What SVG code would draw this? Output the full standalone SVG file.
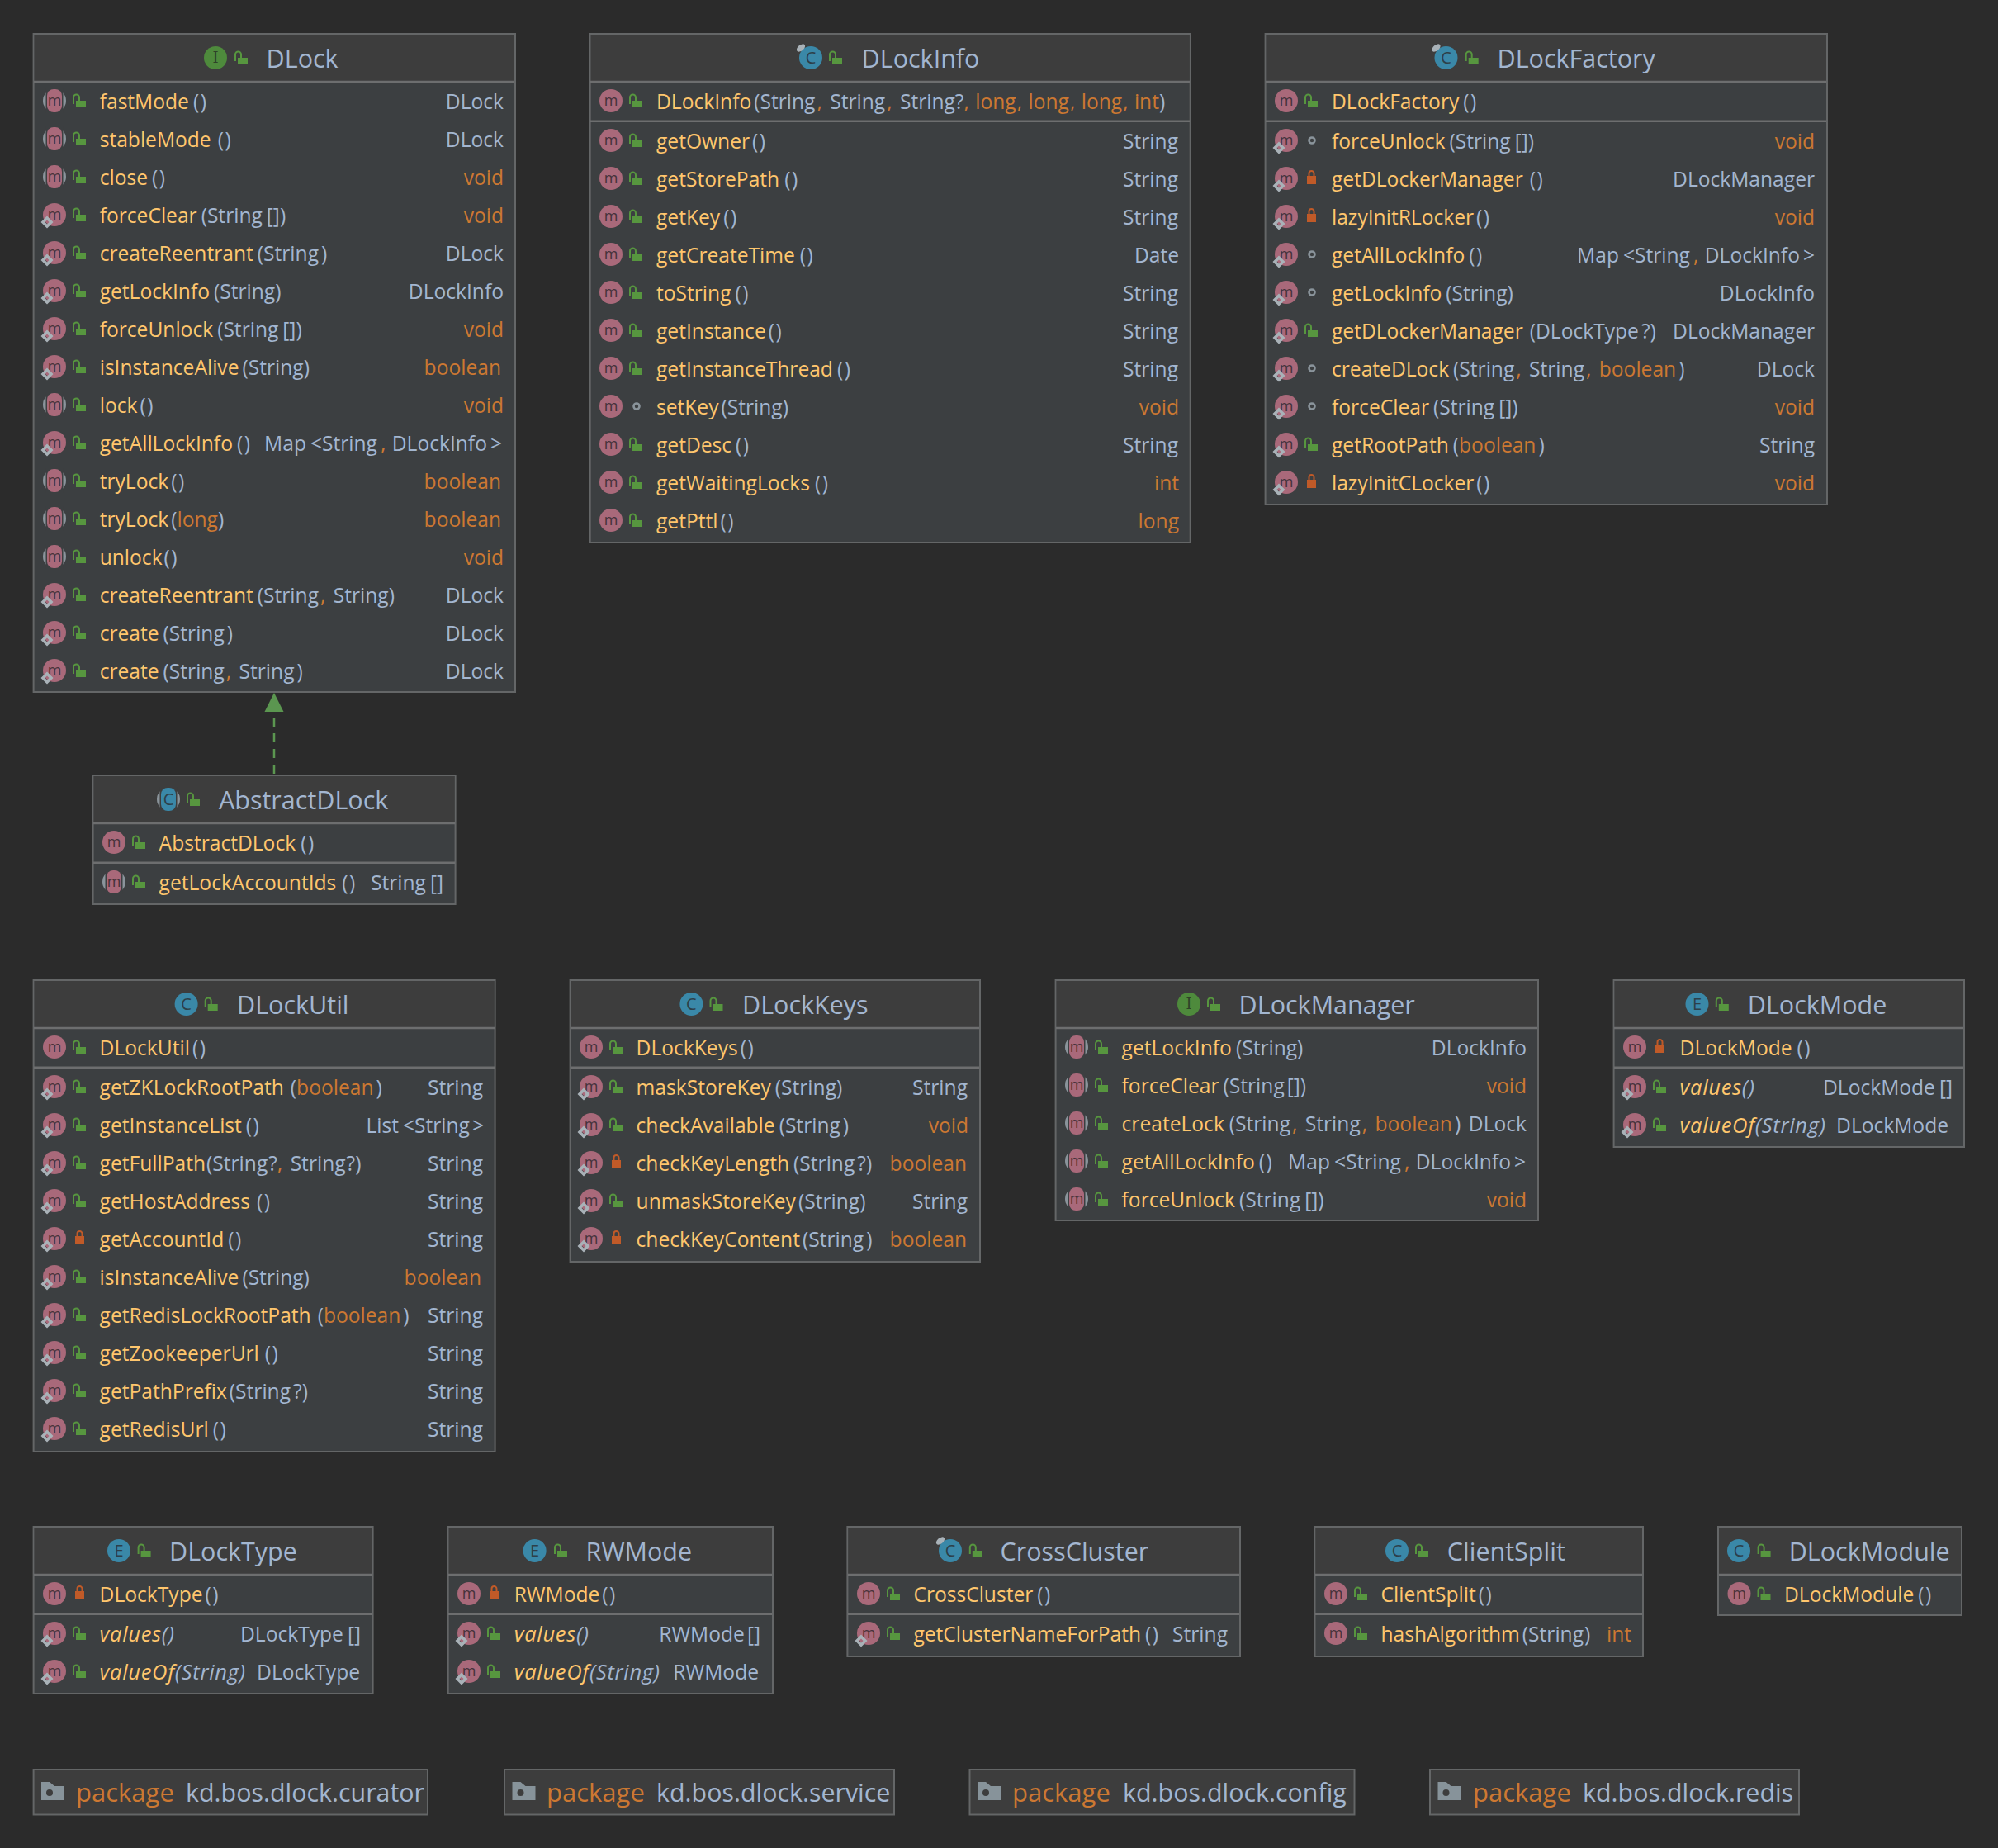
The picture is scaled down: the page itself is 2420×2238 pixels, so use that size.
<svg xmlns="http://www.w3.org/2000/svg" width="2420" height="2238" viewBox="0 0 2420 2238">
<style>
text{font-family:"Open Sans","Noto Sans","Liberation Sans",sans-serif;font-size:24.6px;white-space:pre;fill:#a3b6d0}
.b{fill:#3c3f41;stroke:#646667;stroke-width:2}
.h{fill:#3d3d3d}
.s{stroke:#6d6e6f;stroke-width:2.4;fill:none}
.ti{font-size:30.5px}
.n{fill:#ffc66d}
.t{fill:#a3b6d0}
.u{fill:#a3b6d0;letter-spacing:1.5px}
.k,text.k{fill:#cc7832}
.i{font-style:italic;font-size:25.5px;letter-spacing:.7px}
.r{text-anchor:end}
.pk{font-size:30.4px}
.pk .k{font-size:31px}
.gl{font-size:18px;text-anchor:middle;fill:#45323a}
.gc{font-size:20px;text-anchor:middle;fill:#2d3f49}
.gg{font-size:18px;text-anchor:middle;fill:#2f4228;font-family:"DejaVu Serif",serif}
</style>
<defs>
<g id="m"><circle r="14" fill="#a9697a"/><text class="gl" y="6">m</text></g>
<g id="ma"><circle r="14" fill="#8a949b"/><rect x="-10.500" y="-15" width="21" height="30" fill="#3c3f41"/><rect x="-9" y="-14" width="18" height="28" rx="8" fill="#a9697a"/><text class="gl" y="6">m</text></g>
<g id="ms"><use href="#m"/><path d="M-9 1.500L-1.500 9-9 16.500-16.500 9ZM-9 6.500L-11.500 9-9 11.500-6.500 9Z" fill="#a9b2b8" fill-rule="evenodd"/></g>
<g id="lo" fill="#57963f"><rect x="-4" y="0" width="12" height="8"/><path d="M-7 4V-4A3.500 3.500 0 0 1 0-4V0" fill="none" stroke="#57963f" stroke-width="2"/></g>
<g id="lp"><rect x="-5" y="-3" width="11" height="10" fill="#c05a28"/><path d="M-2.500-3V-6A3 3 0 0 1 3.500-6V-3" fill="none" stroke="#c05a28" stroke-width="2"/></g>
<circle id="lk" cx="1" cy="0" r="3.500" fill="none" stroke="#8a949b" stroke-width="2.600"/>
<g id="cc"><circle r="14" fill="#3a88a8"/><text class="gc" y="7">C</text></g>
<g id="cf"><use href="#cc"/><ellipse cx="-12" cy="-12" rx="6" ry="3.500" fill="#a9b2b8" transform="rotate(-40 -12 -12)"/></g>
<g id="ca"><circle r="14" fill="#8a949b"/><rect x="-10.500" y="-15" width="21" height="30" fill="#3d3d3d"/><rect x="-9" y="-14" width="18" height="28" rx="8" fill="#3a88a8"/><text class="gc" y="7">C</text></g>
<g id="ce"><circle r="14" fill="#3a88a8"/><text class="gc" y="7">E</text></g>
<g id="ci"><circle r="14" fill="#4e8a3c"/><text class="gg" y="6">I</text></g>
<g id="fd"><path d="M50 2158H60L66 2163H78V2180H50Z" fill="#87939a"/><circle cx="60" cy="2171" r="4" fill="#3d3d3d"/></g>
</defs>
<rect width="2420" height="2238" fill="#2b2b2b"/>

<g id="connectors">
<path d="M332 937V862" fill="none" stroke="#5b9650" stroke-width="2.500" stroke-dasharray="11 8"/>
<path d="M332 839L343.500 862H320.500Z" fill="#5b9650"/>
</g>

<g id="DLock">
<rect class="b" x="40.600" y="41" width="583.400" height="797"/><rect class="h" x="41.600" y="42" width="581.400" height="57"/><path class="s" d="M41 99H623"/>
<use href="#ci" x="261" y="70"/><use href="#lo" x="292" y="70"/><text class="ti" x="322.600" y="82">DLock</text>
<use href="#ma" x="66" y="122"/><use href="#lo" x="96" y="122"/><text x="120.700" y="131.500"><tspan class="n">fastMode</tspan><tspan class="u" dx="5">()</tspan></text><text class="r" x="610" y="131.500">DLock</text>
<use href="#ma" x="66" y="168"/><use href="#lo" x="96" y="168"/><text x="120.700" y="177.500"><tspan class="n">stableMode</tspan><tspan class="u" dx="8">()</tspan></text><text class="r" x="610" y="177.500">DLock</text>
<use href="#ma" x="66" y="214"/><use href="#lo" x="96" y="214"/><text x="120.700" y="223.500"><tspan class="n">close</tspan><tspan class="u" dx="5">()</tspan></text><text class="r k" x="610" y="223.500">void</text>
<use href="#ms" x="66" y="260"/><use href="#lo" x="96" y="260"/><text x="120.700" y="269.500"><tspan class="n">forceClear</tspan><tspan class="t" dx="5">(String</tspan><tspan class="t" dx="5">[])</tspan></text><text class="r k" x="610" y="269.500">void</text>
<use href="#ms" x="66" y="306"/><use href="#lo" x="96" y="306"/><text x="120.700" y="315.500"><tspan class="n">createReentrant</tspan><tspan class="t" dx="5">(String</tspan><tspan class="t" dx="3">)</tspan></text><text class="r" x="610" y="315.500">DLock</text>
<use href="#ms" x="66" y="352"/><use href="#lo" x="96" y="352"/><text x="120.700" y="361.500"><tspan class="n">getLockInfo</tspan><tspan class="t" dx="5">(String)</tspan></text><text class="r" x="610" y="361.500">DLockInfo</text>
<use href="#ms" x="66" y="398"/><use href="#lo" x="96" y="398"/><text x="120.700" y="407.500"><tspan class="n">forceUnlock</tspan><tspan class="t" dx="5">(String</tspan><tspan class="t" dx="5">[])</tspan></text><text class="r k" x="610" y="407.500">void</text>
<use href="#ms" x="66" y="444"/><use href="#lo" x="96" y="444"/><text x="120.700" y="453.500"><tspan class="n">isInstanceAlive</tspan><tspan class="t" dx="4">(String)</tspan></text><text class="r k" x="607" y="453.500">boolean</text>
<use href="#ma" x="66" y="490"/><use href="#lo" x="96" y="490"/><text x="120.700" y="499.500"><tspan class="n">lock</tspan><tspan class="u" dx="3">()</tspan></text><text class="r k" x="610" y="499.500">void</text>
<use href="#ms" x="66" y="536"/><use href="#lo" x="96" y="536"/><text x="120.700" y="545.500"><tspan class="n">getAllLockInfo</tspan><tspan class="u" dx="5">()</tspan></text><text class="r" x="608" y="545.500">Map<tspan dx="5">&lt;String</tspan><tspan class="k" dx="4">, </tspan><tspan dx="1">DLockInfo</tspan><tspan dx="4">&gt;</tspan></text>
<use href="#ma" x="66" y="582"/><use href="#lo" x="96" y="582"/><text x="120.700" y="591.500"><tspan class="n">tryLock</tspan><tspan class="u" dx="3">()</tspan></text><text class="r k" x="607" y="591.500">boolean</text>
<use href="#ma" x="66" y="628"/><use href="#lo" x="96" y="628"/><text x="120.700" y="637.500"><tspan class="n">tryLock</tspan><tspan class="t" dx="3">(</tspan><tspan class="k">long</tspan><tspan class="t">)</tspan></text><text class="r k" x="607" y="637.500">boolean</text>
<use href="#ma" x="66" y="674"/><use href="#lo" x="96" y="674"/><text x="120.700" y="683.500"><tspan class="n">unlock</tspan><tspan class="u" dx="2">()</tspan></text><text class="r k" x="610" y="683.500">void</text>
<use href="#ms" x="66" y="720"/><use href="#lo" x="96" y="720"/><text x="120.700" y="729.500"><tspan class="n">createReentrant</tspan><tspan class="t" dx="5">(String</tspan><tspan class="k" dx="2">, </tspan><tspan class="t" dx="3">String)</tspan></text><text class="r" x="610" y="729.500">DLock</text>
<use href="#ms" x="66" y="766"/><use href="#lo" x="96" y="766"/><text x="120.700" y="775.500"><tspan class="n">create</tspan><tspan class="t" dx="5">(String</tspan><tspan class="t" dx="3">)</tspan></text><text class="r" x="610" y="775.500">DLock</text>
<use href="#ms" x="66" y="812"/><use href="#lo" x="96" y="812"/><text x="120.700" y="821.500"><tspan class="n">create</tspan><tspan class="t" dx="5">(String</tspan><tspan class="k" dx="2">, </tspan><tspan class="t" dx="3">String</tspan><tspan class="t" dx="3">)</tspan></text><text class="r" x="610" y="821.500">DLock</text>
</g>

<g id="DLockInfo">
<rect class="b" x="714.700" y="41" width="727" height="616"/><rect class="h" x="715.700" y="42" width="725" height="57"/><path class="s" d="M715 99H1441M715 146.700H1441"/>
<use href="#cf" x="982" y="70"/><use href="#lo" x="1012" y="70"/><text class="ti" x="1043.600" y="82">DLockInfo</text>
<use href="#m" x="740" y="122"/><use href="#lo" x="770" y="122"/><text x="795" y="131.500"><tspan class="n">DLockInfo</tspan><tspan class="t" dx="3">(String</tspan><tspan class="k" dx="2">, </tspan><tspan class="t" dx="3">String</tspan><tspan class="k" dx="2">, </tspan><tspan class="t" dx="3">String?</tspan><tspan class="k">, </tspan><tspan class="k" dx="1">long</tspan><tspan class="k" dx="1">, </tspan><tspan class="k" dx="1">long</tspan><tspan class="k" dx="1">, </tspan><tspan class="k" dx="1">long</tspan><tspan class="k" dx="1">, </tspan><tspan class="k" dx="1">int</tspan><tspan class="t">)</tspan></text>
<use href="#m" x="740" y="170"/><use href="#lo" x="770" y="170"/><text x="795" y="179.500"><tspan class="n">getOwner</tspan><tspan class="u" dx="3">()</tspan></text><text class="r" x="1427" y="179.500">String</text>
<use href="#m" x="740" y="216"/><use href="#lo" x="770" y="216"/><text x="795" y="225.500"><tspan class="n">getStorePath</tspan><tspan class="u" dx="6">()</tspan></text><text class="r" x="1427" y="225.500">String</text>
<use href="#m" x="740" y="262"/><use href="#lo" x="770" y="262"/><text x="795" y="271.500"><tspan class="n">getKey</tspan><tspan class="u" dx="4">()</tspan></text><text class="r" x="1427" y="271.500">String</text>
<use href="#m" x="740" y="308"/><use href="#lo" x="770" y="308"/><text x="795" y="317.500"><tspan class="n">getCreateTime</tspan><tspan class="u" dx="6">()</tspan></text><text class="r" x="1428" y="317.500">Date</text>
<use href="#m" x="740" y="354"/><use href="#lo" x="770" y="354"/><text x="795" y="363.500"><tspan class="n">toString</tspan><tspan class="u" dx="5">()</tspan></text><text class="r" x="1427" y="363.500">String</text>
<use href="#m" x="740" y="400"/><use href="#lo" x="770" y="400"/><text x="795" y="409.500"><tspan class="n">getInstance</tspan><tspan class="u" dx="3">()</tspan></text><text class="r" x="1427" y="409.500">String</text>
<use href="#m" x="740" y="446"/><use href="#lo" x="770" y="446"/><text x="795" y="455.500"><tspan class="n">getInstanceThread</tspan><tspan class="u" dx="5">()</tspan></text><text class="r" x="1427" y="455.500">String</text>
<use href="#m" x="740" y="492"/><use href="#lk" x="770" y="492"/><text x="795" y="501.500"><tspan class="n">setKey</tspan><tspan class="t" dx="3">(String)</tspan></text><text class="r k" x="1428" y="501.500">void</text>
<use href="#m" x="740" y="538"/><use href="#lo" x="770" y="538"/><text x="795" y="547.500"><tspan class="n">getDesc</tspan><tspan class="u" dx="5">()</tspan></text><text class="r" x="1427" y="547.500">String</text>
<use href="#m" x="740" y="584"/><use href="#lo" x="770" y="584"/><text x="795" y="593.500"><tspan class="n">getWaitingLocks</tspan><tspan class="u" dx="6">()</tspan></text><text class="r k" x="1428" y="593.500">int</text>
<use href="#m" x="740" y="630"/><use href="#lo" x="770" y="630"/><text x="795" y="639.500"><tspan class="n">getPttl</tspan><tspan class="u" dx="3">()</tspan></text><text class="r k" x="1428" y="639.500">long</text>
</g>

<g id="DLockFactory">
<rect class="b" x="1532.600" y="41" width="680.400" height="570"/><rect class="h" x="1533.600" y="42" width="678.400" height="57"/><path class="s" d="M1533 99H2212M1533 146.700H2212"/>
<use href="#cf" x="1751.500" y="70"/><use href="#lo" x="1782.700" y="70"/><text class="ti" x="1813.500" y="82">DLockFactory</text>
<use href="#m" x="1558" y="122"/><use href="#lo" x="1588" y="122"/><text x="1613" y="131.500"><tspan class="n">DLockFactory</tspan><tspan class="u" dx="5">()</tspan></text>
<use href="#ms" x="1558" y="170"/><use href="#lk" x="1588" y="170"/><text x="1613" y="179.500"><tspan class="n">forceUnlock</tspan><tspan class="t" dx="5">(String</tspan><tspan class="t" dx="5">[])</tspan></text><text class="r k" x="2198" y="179.500">void</text>
<use href="#ms" x="1558" y="216"/><use href="#lp" x="1588" y="216"/><text x="1613" y="225.500"><tspan class="n">getDLockerManager</tspan><tspan class="u" dx="8">()</tspan></text><text class="r" x="2198" y="225.500">DLockManager</text>
<use href="#ms" x="1558" y="262"/><use href="#lp" x="1588" y="262"/><text x="1613" y="271.500"><tspan class="n">lazyInitRLocker</tspan><tspan class="u" dx="3">()</tspan></text><text class="r k" x="2198" y="271.500">void</text>
<use href="#ms" x="1558" y="308"/><use href="#lk" x="1588" y="308"/><text x="1613" y="317.500"><tspan class="n">getAllLockInfo</tspan><tspan class="u" dx="5">()</tspan></text><text class="r" x="2198" y="317.500">Map<tspan dx="5">&lt;String</tspan><tspan class="k" dx="4">, </tspan><tspan dx="1">DLockInfo</tspan><tspan dx="4">&gt;</tspan></text>
<use href="#ms" x="1558" y="354"/><use href="#lk" x="1588" y="354"/><text x="1613" y="363.500"><tspan class="n">getLockInfo</tspan><tspan class="t" dx="5">(String)</tspan></text><text class="r" x="2198" y="363.500">DLockInfo</text>
<use href="#ms" x="1558" y="400"/><use href="#lo" x="1588" y="400"/><text x="1613" y="409.500"><tspan class="n">getDLockerManager</tspan><tspan class="t" dx="8">(DLockType</tspan><tspan class="t" dx="3">?)</tspan></text><text class="r" x="2198" y="409.500">DLockManager</text>
<use href="#ms" x="1558" y="446"/><use href="#lk" x="1588" y="446"/><text x="1613" y="455.500"><tspan class="n">createDLock</tspan><tspan class="t" dx="5">(String</tspan><tspan class="k" dx="2">, </tspan><tspan class="t" dx="3">String</tspan><tspan class="k" dx="2">, </tspan><tspan class="k" dx="3">boolean</tspan><tspan class="t" dx="3">)</tspan></text><text class="r" x="2198" y="455.500">DLock</text>
<use href="#ms" x="1558" y="492"/><use href="#lk" x="1588" y="492"/><text x="1613" y="501.500"><tspan class="n">forceClear</tspan><tspan class="t" dx="5">(String</tspan><tspan class="t" dx="5">[])</tspan></text><text class="r k" x="2198" y="501.500">void</text>
<use href="#ms" x="1558" y="538"/><use href="#lo" x="1588" y="538"/><text x="1613" y="547.500"><tspan class="n">getRootPath</tspan><tspan class="t" dx="5">(</tspan><tspan class="k">boolean</tspan><tspan class="t" dx="3">)</tspan></text><text class="r" x="2198" y="547.500">String</text>
<use href="#ms" x="1558" y="584"/><use href="#lp" x="1588" y="584"/><text x="1613" y="593.500"><tspan class="n">lazyInitCLocker</tspan><tspan class="u" dx="3">()</tspan></text><text class="r k" x="2198" y="593.500">void</text>
</g>

<g id="AbstractDLock">
<rect class="b" x="112.600" y="939" width="439" height="156"/><rect class="h" x="113.600" y="940" width="437" height="57"/><path class="s" d="M113 997H551M113 1044.700H551"/>
<use href="#ca" x="204" y="968"/><use href="#lo" x="234" y="968"/><text class="ti" x="265" y="980">AbstractDLock</text>
<use href="#m" x="138" y="1020"/><use href="#lo" x="168" y="1020"/><text x="192.600" y="1029.500"><tspan class="n">AbstractDLock</tspan><tspan class="u" dx="6">()</tspan></text>
<use href="#ma" x="138" y="1068"/><use href="#lo" x="168" y="1068"/><text x="192.600" y="1077.500"><tspan class="n">getLockAccountIds</tspan><tspan class="u" dx="7">()</tspan></text><text class="r" x="537" y="1077.500">String<tspan dx="5">[]</tspan></text>
</g>

<g id="DLockUtil">
<rect class="b" x="40.600" y="1187" width="559" height="571"/><rect class="h" x="41.600" y="1188" width="557" height="57"/><path class="s" d="M41 1245H599M41 1292.700H599"/>
<use href="#cc" x="225.600" y="1216"/><use href="#lo" x="255.700" y="1216"/><text class="ti" x="287" y="1228">DLockUtil</text>
<use href="#m" x="66" y="1268"/><use href="#lo" x="96" y="1268"/><text x="120.600" y="1277.500"><tspan class="n">DLockUtil</tspan><tspan class="u" dx="3">()</tspan></text>
<use href="#ms" x="66" y="1316"/><use href="#lo" x="96" y="1316"/><text x="120.600" y="1325.500"><tspan class="n">getZKLockRootPath</tspan><tspan class="t" dx="8">(</tspan><tspan class="k">boolean</tspan><tspan class="t" dx="3">)</tspan></text><text class="r" x="585" y="1325.500">String</text>
<use href="#ms" x="66" y="1362"/><use href="#lo" x="96" y="1362"/><text x="120.600" y="1371.500"><tspan class="n">getInstanceList</tspan><tspan class="u" dx="5">()</tspan></text><text class="r" x="586" y="1371.500">List<tspan dx="5">&lt;String</tspan><tspan dx="3">&gt;</tspan></text>
<use href="#ms" x="66" y="1408"/><use href="#lo" x="96" y="1408"/><text x="120.600" y="1417.500"><tspan class="n">getFullPath</tspan><tspan class="t" dx="1">(String</tspan><tspan class="t" dx="1">?</tspan><tspan class="k">, </tspan><tspan class="t" dx="3">String</tspan><tspan class="t" dx="1">?)</tspan></text><text class="r" x="585" y="1417.500">String</text>
<use href="#ms" x="66" y="1454"/><use href="#lo" x="96" y="1454"/><text x="120.600" y="1463.500"><tspan class="n">getHostAddress</tspan><tspan class="u" dx="8">()</tspan></text><text class="r" x="585" y="1463.500">String</text>
<use href="#ms" x="66" y="1500"/><use href="#lp" x="96" y="1500"/><text x="120.600" y="1509.500"><tspan class="n">getAccountId</tspan><tspan class="u" dx="5">()</tspan></text><text class="r" x="585" y="1509.500">String</text>
<use href="#ms" x="66" y="1546"/><use href="#lo" x="96" y="1546"/><text x="120.600" y="1555.500"><tspan class="n">isInstanceAlive</tspan><tspan class="t" dx="4">(String)</tspan></text><text class="r k" x="583" y="1555.500">boolean</text>
<use href="#ms" x="66" y="1592"/><use href="#lo" x="96" y="1592"/><text x="120.600" y="1601.500"><tspan class="n">getRedisLockRootPath</tspan><tspan class="t" dx="8">(</tspan><tspan class="k">boolean</tspan><tspan class="t" dx="3">)</tspan></text><text class="r" x="585" y="1601.500">String</text>
<use href="#ms" x="66" y="1638"/><use href="#lo" x="96" y="1638"/><text x="120.600" y="1647.500"><tspan class="n">getZookeeperUrl</tspan><tspan class="u" dx="7">()</tspan></text><text class="r" x="585" y="1647.500">String</text>
<use href="#ms" x="66" y="1684"/><use href="#lo" x="96" y="1684"/><text x="120.600" y="1693.500"><tspan class="n">getPathPrefix</tspan><tspan class="t" dx="3">(String</tspan><tspan class="t" dx="3">?)</tspan></text><text class="r" x="585" y="1693.500">String</text>
<use href="#ms" x="66" y="1730"/><use href="#lo" x="96" y="1730"/><text x="120.600" y="1739.500"><tspan class="n">getRedisUrl</tspan><tspan class="u" dx="5">()</tspan></text><text class="r" x="585" y="1739.500">String</text>
</g>

<g id="DLockKeys">
<rect class="b" x="690.600" y="1187" width="496.400" height="341"/><rect class="h" x="691.600" y="1188" width="494.400" height="57"/><path class="s" d="M691 1245H1186M691 1292.700H1186"/>
<use href="#cc" x="837.400" y="1216"/><use href="#lo" x="867.500" y="1216"/><text class="ti" x="899" y="1228">DLockKeys</text>
<use href="#m" x="716" y="1268"/><use href="#lo" x="746" y="1268"/><text x="770.600" y="1277.500"><tspan class="n">DLockKeys</tspan><tspan class="u" dx="3">()</tspan></text>
<use href="#ms" x="716" y="1316"/><use href="#lo" x="746" y="1316"/><text x="770.600" y="1325.500"><tspan class="n">maskStoreKey</tspan><tspan class="t" dx="5">(String)</tspan></text><text class="r" x="1172" y="1325.500">String</text>
<use href="#ms" x="716" y="1362"/><use href="#lo" x="746" y="1362"/><text x="770.600" y="1371.500"><tspan class="n">checkAvailable</tspan><tspan class="t" dx="5">(String</tspan><tspan class="t" dx="3">)</tspan></text><text class="r k" x="1173" y="1371.500">void</text>
<use href="#ms" x="716" y="1408"/><use href="#lp" x="746" y="1408"/><text x="770.600" y="1417.500"><tspan class="n">checkKeyLength</tspan><tspan class="t" dx="5">(String</tspan><tspan class="t" dx="3">?)</tspan></text><text class="r k" x="1171" y="1417.500">boolean</text>
<use href="#ms" x="716" y="1454"/><use href="#lo" x="746" y="1454"/><text x="770.600" y="1463.500"><tspan class="n">unmaskStoreKey</tspan><tspan class="t" dx="3">(String)</tspan></text><text class="r" x="1172" y="1463.500">String</text>
<use href="#ms" x="716" y="1500"/><use href="#lp" x="746" y="1500"/><text x="770.600" y="1509.500"><tspan class="n">checkKeyContent</tspan><tspan class="t" dx="3">(String</tspan><tspan class="t" dx="3">)</tspan></text><text class="r k" x="1171" y="1509.500">boolean</text>
</g>

<g id="DLockManager">
<rect class="b" x="1278.600" y="1187" width="584.400" height="291"/><rect class="h" x="1279.600" y="1188" width="582.400" height="57"/><path class="s" d="M1279 1245H1862"/>
<use href="#ci" x="1440" y="1216"/><use href="#lo" x="1470" y="1216"/><text class="ti" x="1500.600" y="1228">DLockManager</text>
<use href="#ma" x="1304" y="1268"/><use href="#lo" x="1334" y="1268"/><text x="1358.600" y="1277.500"><tspan class="n">getLockInfo</tspan><tspan class="t" dx="5">(String)</tspan></text><text class="r" x="1849" y="1277.500">DLockInfo</text>
<use href="#ma" x="1304" y="1314"/><use href="#lo" x="1334" y="1314"/><text x="1358.600" y="1323.500"><tspan class="n">forceClear</tspan><tspan class="t" dx="5">(String</tspan><tspan class="t" dx="3">[])</tspan></text><text class="r k" x="1849" y="1323.500">void</text>
<use href="#ma" x="1304" y="1360"/><use href="#lo" x="1334" y="1360"/><text x="1358.600" y="1369.500"><tspan class="n">createLock</tspan><tspan class="t" dx="6">(String</tspan><tspan class="k" dx="2">, </tspan><tspan class="t" dx="3">String</tspan><tspan class="k" dx="2">, </tspan><tspan class="k" dx="3">boolean</tspan><tspan class="t" dx="3">)</tspan></text><text class="r" x="1849" y="1369.500">DLock</text>
<use href="#ma" x="1304" y="1406"/><use href="#lo" x="1334" y="1406"/><text x="1358.600" y="1415.500"><tspan class="n">getAllLockInfo</tspan><tspan class="u" dx="5">()</tspan></text><text class="r" x="1848" y="1415.500">Map<tspan dx="5">&lt;String</tspan><tspan class="k" dx="4">, </tspan><tspan dx="1">DLockInfo</tspan><tspan dx="4">&gt;</tspan></text>
<use href="#ma" x="1304" y="1452"/><use href="#lo" x="1334" y="1452"/><text x="1358.600" y="1461.500"><tspan class="n">forceUnlock</tspan><tspan class="t" dx="5">(String</tspan><tspan class="t" dx="5">[])</tspan></text><text class="r k" x="1849" y="1461.500">void</text>
</g>

<g id="DLockMode">
<rect class="b" x="1954.600" y="1187" width="424.400" height="202"/><rect class="h" x="1955.600" y="1188" width="422.400" height="57"/><path class="s" d="M1955 1245H2378M1955 1292.700H2378"/>
<use href="#ce" x="2055.500" y="1216"/><use href="#lo" x="2085.800" y="1216"/><text class="ti" x="2116.800" y="1228">DLockMode</text>
<use href="#m" x="1980" y="1268"/><use href="#lp" x="2010" y="1268"/><text x="2034.600" y="1277.500"><tspan class="n">DLockMode</tspan><tspan class="u" dx="6">()</tspan></text>
<use href="#ms" x="1980" y="1316"/><use href="#lo" x="2010" y="1316"/><text class="i" x="2034.600" y="1325.500"><tspan class="n">values</tspan><tspan class="t">()</tspan></text><text class="r" x="2365" y="1325.500">DLockMode<tspan dx="5">[]</tspan></text>
<use href="#ms" x="1980" y="1362"/><use href="#lo" x="2010" y="1362"/><text class="i" x="2034.600" y="1371.500"><tspan class="n">valueOf</tspan><tspan class="t">(String)</tspan></text><text class="r" x="2360" y="1371.500">DLockMode</text>
</g>

<g id="DLockType">
<rect class="b" x="40.600" y="1849" width="411" height="202"/><rect class="h" x="41.600" y="1850" width="409" height="57"/><path class="s" d="M41 1907H451M41 1954.700H451"/>
<use href="#ce" x="144" y="1878"/><use href="#lo" x="174.600" y="1878"/><text class="ti" x="205" y="1890">DLockType</text>
<use href="#m" x="66" y="1930"/><use href="#lp" x="96" y="1930"/><text x="120.600" y="1939.500"><tspan class="n">DLockType</tspan><tspan class="u" dx="3">()</tspan></text>
<use href="#ms" x="66" y="1978"/><use href="#lo" x="96" y="1978"/><text class="i" x="120.600" y="1987.500"><tspan class="n">values</tspan><tspan class="t">()</tspan></text><text class="r" x="437" y="1987.500">DLockType<tspan dx="5">[]</tspan></text>
<use href="#ms" x="66" y="2024"/><use href="#lo" x="96" y="2024"/><text class="i" x="120.600" y="2033.500"><tspan class="n">valueOf</tspan><tspan class="t">(String)</tspan></text><text class="r" x="436" y="2033.500">DLockType</text>
</g>

<g id="RWMode">
<rect class="b" x="542.700" y="1849" width="393.300" height="202"/><rect class="h" x="543.700" y="1850" width="391.300" height="57"/><path class="s" d="M543 1907H935M543 1954.700H935"/>
<use href="#ce" x="647.600" y="1878"/><use href="#lo" x="679" y="1878"/><text class="ti" x="709.600" y="1890">RWMode</text>
<use href="#m" x="568" y="1930"/><use href="#lp" x="598" y="1930"/><text x="622.700" y="1939.500"><tspan class="n">RWMode</tspan><tspan class="u" dx="3">()</tspan></text>
<use href="#ms" x="568" y="1978"/><use href="#lo" x="598" y="1978"/><text class="i" x="622.700" y="1987.500"><tspan class="n">values</tspan><tspan class="t">()</tspan></text><text class="r" x="921" y="1987.500">RWMode<tspan dx="3">[]</tspan></text>
<use href="#ms" x="568" y="2024"/><use href="#lo" x="598" y="2024"/><text class="i" x="622.700" y="2033.500"><tspan class="n">valueOf</tspan><tspan class="t">(String)</tspan></text><text class="r" x="919" y="2033.500">RWMode</text>
</g>

<g id="CrossCluster">
<rect class="b" x="1026.400" y="1849" width="475.600" height="157"/><rect class="h" x="1027.400" y="1850" width="473.600" height="57"/><path class="s" d="M1027 1907H1501M1027 1954.700H1501"/>
<use href="#cf" x="1151" y="1878"/><use href="#lo" x="1181.800" y="1878"/><text class="ti" x="1211.600" y="1890">CrossCluster</text>
<use href="#m" x="1052" y="1930"/><use href="#lo" x="1082" y="1930"/><text x="1106.400" y="1939.500"><tspan class="n">CrossCluster</tspan><tspan class="u" dx="5">()</tspan></text>
<use href="#ms" x="1052" y="1978"/><use href="#lo" x="1082" y="1978"/><text x="1106.400" y="1987.500"><tspan class="n">getClusterNameForPath</tspan><tspan class="u" dx="5">()</tspan></text><text class="r" x="1487" y="1987.500">String</text>
</g>

<g id="ClientSplit">
<rect class="b" x="1592.500" y="1849" width="397.500" height="157"/><rect class="h" x="1593.500" y="1850" width="395.500" height="57"/><path class="s" d="M1593 1907H1989M1593 1954.700H1989"/>
<use href="#cc" x="1692" y="1878"/><use href="#lo" x="1722" y="1878"/><text class="ti" x="1752.800" y="1890">ClientSplit</text>
<use href="#m" x="1618" y="1930"/><use href="#lo" x="1648" y="1930"/><text x="1672.500" y="1939.500"><tspan class="n">ClientSplit</tspan><tspan class="u" dx="3">()</tspan></text>
<use href="#m" x="1618" y="1978"/><use href="#lo" x="1648" y="1978"/><text x="1672.500" y="1987.500"><tspan class="n">hashAlgorithm</tspan><tspan class="t" dx="3">(String</tspan><tspan class="t" dx="1">)</tspan></text><text class="r k" x="1976" y="1987.500">int</text>
</g>

<g id="DLockModule">
<rect class="b" x="2081" y="1849" width="295" height="107"/><rect class="h" x="2082" y="1850" width="293" height="57"/><path class="s" d="M2082 1907H2375"/>
<use href="#cc" x="2106" y="1878"/><use href="#lo" x="2136.600" y="1878"/><text class="ti" x="2166.700" y="1890">DLockModule</text>
<use href="#m" x="2106.500" y="1930"/><use href="#lo" x="2136.500" y="1930"/><text x="2161" y="1939.500"><tspan class="n">DLockModule</tspan><tspan class="u" dx="5">()</tspan></text>
</g>

<g id="pkg-curator"><rect class="b" x="40.600" y="2143" width="477.400" height="54.500" style="fill:#3d3d3d"/><use href="#fd"/><text class="pk" x="92" y="2182"><tspan class="k">package</tspan></text><text class="pk" x="225" y="2182">kd.bos.dlock.curator</text></g>
<g id="pkg-service"><rect class="b" x="611" y="2143" width="472" height="54.500" style="fill:#3d3d3d"/><use href="#fd" x="570.500"/><text class="pk" x="662" y="2182"><tspan class="k">package</tspan></text><text class="pk" x="795" y="2182">kd.bos.dlock.service</text></g>
<g id="pkg-config"><rect class="b" x="1174.500" y="2143" width="466" height="54.500" style="fill:#3d3d3d"/><use href="#fd" x="1134"/><text class="pk" x="1226" y="2182"><tspan class="k">package</tspan></text><text class="pk" x="1360" y="2182">kd.bos.dlock.config</text></g>
<g id="pkg-redis"><rect class="b" x="1732" y="2143" width="447" height="54.500" style="fill:#3d3d3d"/><use href="#fd" x="1691.500"/><text class="pk" x="1784" y="2182"><tspan class="k">package</tspan></text><text class="pk" x="1917" y="2182">kd.bos.dlock.redis</text></g>
</svg>
